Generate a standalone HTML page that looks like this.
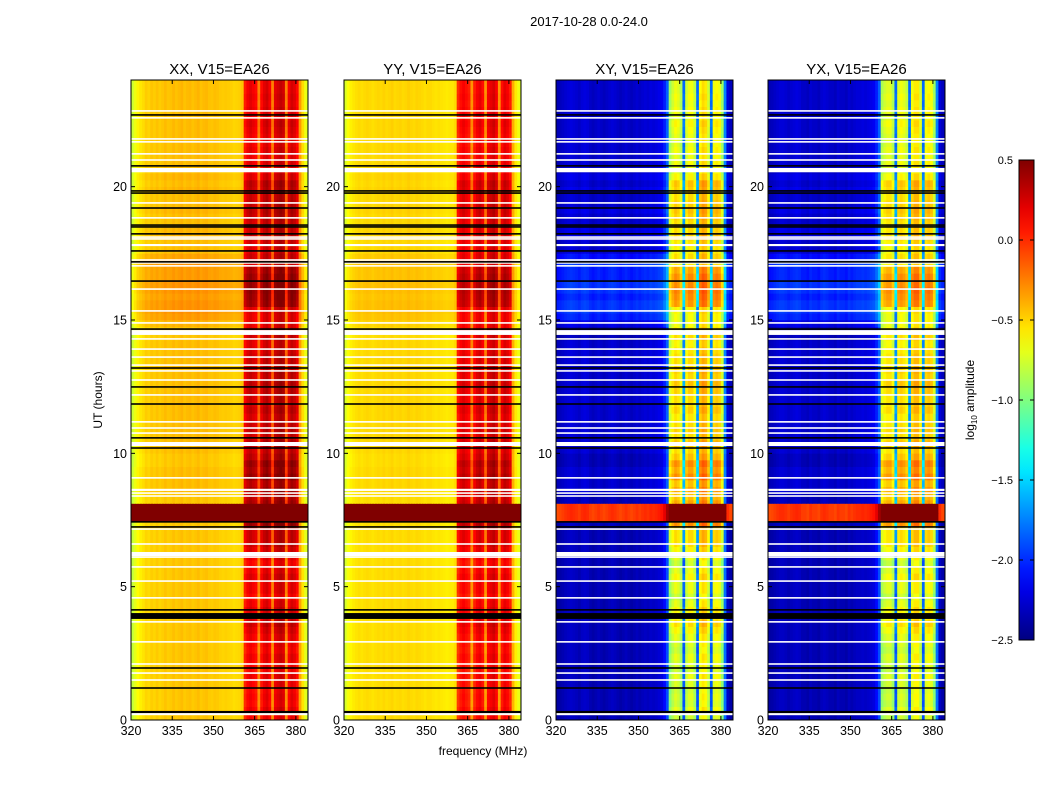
<!DOCTYPE html>
<html><head><meta charset="utf-8"><style>
body{margin:0;background:#fff;}
svg text{font-family:"Liberation Sans",sans-serif;fill:#000;}
</style></head><body>
<svg id="fig" width="1050" height="800" xmlns="http://www.w3.org/2000/svg">
<rect width="1050" height="800" fill="#fff"/>
<text x="589" y="26" font-size="13" text-anchor="middle">2017-10-28 0.0-24.0</text>
<text x="483" y="755" font-size="12" text-anchor="middle">frequency (MHz)</text>
<text transform="translate(102,400) rotate(-90)" font-size="12" text-anchor="middle">UT (hours)</text>
</svg>
<script>
// ---- data ----
const polNames = ["XX","YY","XY","YX"];
const xTicks = [320,335,350,365,380];
const yTicks = [0,5,10,15,20];
const cbTicks = [0.5,0.0,-0.5,-1.0,-1.5,-2.0,-2.5];
const baseXX = [-0.8,-0.7,-0.62,-0.58,-0.55,-0.5,-0.52,-0.48,-0.5,-0.47,-0.5,-0.48,-0.45,-0.48,-0.47,-0.44,-0.47,-0.45,-0.43,-0.47,-0.45,-0.44,-0.47,-0.45,-0.43,-0.47,-0.45,-0.44,-0.47,-0.48,-0.46,-0.47,-0.49,-0.5,-0.49,-0.5,-0.51,-0.53,-0.52,-0.51,-0.48,
 0.0,0.1,0.15,0.1,0.05,-0.3,0.05,0.15,0.2,0.1,-0.3,0.15,0.2,0.25,0.2,-0.3,0.1,0.2,0.15,0.05,-0.35,-0.55,-0.7,-0.8];
const baseYY = [-0.75,-0.65,-0.6,-0.57,-0.55,-0.53,-0.55,-0.53,-0.52,-0.53,-0.55,-0.53,-0.52,-0.53,-0.51,-0.53,-0.52,-0.5,-0.53,-0.52,-0.51,-0.53,-0.52,-0.5,-0.52,-0.53,-0.51,-0.52,-0.53,-0.55,-0.53,-0.53,-0.55,-0.56,-0.55,-0.56,-0.57,-0.58,-0.57,-0.57,-0.53,
 -0.05,0.05,0.1,0.05,0.0,-0.35,0.0,0.1,0.15,0.05,-0.35,0.1,0.15,0.2,0.1,-0.35,0.05,0.15,0.1,0.0,-0.4,-0.58,-0.68,-0.75];
const baseXY = [-2.4,-2.38,-2.35,-2.32,-2.3,-2.28,-2.3,-2.32,-2.35,-2.3,-2.28,-2.3,-2.35,-2.38,-2.35,-2.32,-2.35,-2.38,-2.35,-2.32,-2.3,-2.32,-2.35,-2.38,-2.35,-2.32,-2.35,-2.38,-2.35,-2.32,-2.35,-2.32,-2.3,-2.32,-2.28,-2.3,-2.28,-2.25,-2.22,-2.1,-1.9,
 -1.0,-0.85,-0.75,-0.8,-0.95,-1.9,-0.85,-0.75,-0.75,-0.9,-1.9,-0.7,-0.6,-0.65,-0.85,-1.9,-0.75,-0.7,-0.75,-1.0,-1.8,-2.3,-2.38,-2.4];
const baseYX = [-2.4,-2.38,-2.35,-2.32,-2.3,-2.3,-2.32,-2.35,-2.32,-2.3,-2.28,-2.3,-2.35,-2.35,-2.38,-2.32,-2.35,-2.35,-2.38,-2.32,-2.3,-2.32,-2.35,-2.35,-2.38,-2.32,-2.35,-2.35,-2.38,-2.32,-2.35,-2.32,-2.3,-2.3,-2.28,-2.3,-2.28,-2.25,-2.22,-2.1,-1.9,
 -0.95,-0.85,-0.8,-0.8,-0.95,-1.9,-0.8,-0.75,-0.8,-0.9,-1.9,-0.75,-0.65,-0.65,-0.85,-1.9,-0.75,-0.7,-0.75,-1.0,-1.8,-2.3,-2.38,-2.4];
// time rows: 96 rows of 0.25 h starting at 0 UT
const rfiGain = [0.0,0.1,0.0,0.05, 0.0,0.05,0.1,0.0, 0.05,0.1,0.0,0.05, 0.1,0.2,0.3,0.2,
 0.2,0.1,0.0,0.1, 0.1,0.2,0.1,0.0, 0.1,0.2,0.3,0.3, 0.3,0.6,0.6,0.6,
 0.5,0.4,0.5,0.4, 0.6,0.5,0.6,0.4, 0.3,0.4,0.3,0.35, 0.3,0.25,0.35,0.3,
 0.3,0.35,0.4,0.3, 0.35,0.3,0.3,0.25, 0.2,0.3,0.2,0.15, 0.15,0.2,0.55,0.6,
 0.65,0.6,0.6,0.5, 0.25,0.3,0.2,0.25, 0.35,0.3,0.3,0.35, 0.4,0.35,0.3,0.35,
 0.4,0.2,0.1,0.15, 0.1,0.15,0.1,0.1, 0.15,0.2,0.1,0.15, 0.1,0.15,0.1,0.1];
const lowGain = [0,0,0,0, 0,0,0,0, 0,0,0,0, 0,0,0,0,
 0,0,0,0, 0,0,0,0, 0,0,0,0, 0,0,0,0,
 0,0,0.05,0.05, 0.05,0.05,0,0, 0.05,0.05,0.05,0.05, 0.05,0.05,0.05,0.05,
 0.05,0.05,0.05,0.05, 0.05,0.05,0.05,0.05, 0.05,0,0,0.1, 0.25,0.3,0.3,0.25,
 0.3,0.3,0.25,0.25, 0.3,0.2,0.05,0.05, 0.1,0.1,0.05,0.05, 0.1,0.05,0.05,0.1,
 0.05,0.1,0.05,0.05, 0.05,0.05,0.05,0.05, 0.05,0.05,0.05,0.05, 0.05,0.05,0.05,0.05];
const rfiScale = [0.5,0.4,0.8,0.8];
const lowScale = [0.5,0.3,1.2,1.2];
const flareSpan = [7.42,8.12];
const flareLow = [0.6,0.6,0.0,0.0];
const flareRfi = [0.6,0.6,0.6,0.6];
// flagged integrations [hour, width in hours]
const whiteFlags = [[22.84,0.06],[22.58,0.06],[21.79,0.06],[21.68,0.06],[21.23,0.06],[21.0,0.06],[20.62,0.16],[19.39,0.06],[18.83,0.06],[18.11,0.06],[18.04,0.06],[17.81,0.08],[17.25,0.06],[17.14,0.06],[17.03,0.06],[16.16,0.06],[15.34,0.06],[14.89,0.06],[14.53,0.18],[14.29,0.06],[13.91,0.06],[13.61,0.06],[13.31,0.06],[13.09,0.06],[12.75,0.06],[12.19,0.06],[11.18,0.06],[10.95,0.06],[10.76,0.06],[10.35,0.15],[9.08,0.06],[8.63,0.08],[8.51,0.06],[8.4,0.06],[7.16,0.06],[6.6,0.06],[6.22,0.16],[6.11,0.05],[5.74,0.06],[5.21,0.06],[4.58,0.06],[3.68,0.06],[2.93,0.06],[2.1,0.06],[1.76,0.06],[1.5,0.06],[0.22,0.08]];
const blackFlags = [[22.69,0.06],[20.78,0.06],[19.84,0.06],[19.76,0.06],[19.2,0.06],[18.56,0.06],[18.49,0.06],[18.23,0.06],[17.59,0.06],[17.18,0.06],[16.46,0.06],[14.66,0.06],[13.2,0.06],[12.49,0.06],[11.85,0.06],[10.58,0.06],[10.2,0.06],[7.43,0.06],[7.24,0.06],[4.13,0.06],[3.9,0.22],[1.95,0.06],[1.2,0.06],[0.3,0.08]];
const bases = [baseXX,baseYY,baseXY,baseYX];

// ---- layout ----
const panelX = [131,344,556,768], PW=177, PT=80, PB=720;
const fMin=320, fMax=384.4, tMin=0, tMax=24, vMin=-2.5, vMax=0.5;
const NS="http://www.w3.org/2000/svg";
const fig=document.getElementById('fig');
function mk(tag,attrs,parent){const e=document.createElementNS(NS,tag);for(const k in attrs)e.setAttribute(k,attrs[k]);(parent||fig).appendChild(e);return e;}
function cl(v){return Math.max(0,Math.min(1,v));}
function jet(v){const t=cl((v-vMin)/(vMax-vMin));const r=cl(1.5-Math.abs(4*t-3)),g=cl(1.5-Math.abs(4*t-2)),b=cl(1.5-Math.abs(4*t-1));return `rgb(${Math.round(r*255)},${Math.round(g*255)},${Math.round(b*255)})`;}
function xs(p,f){return panelX[p]+(f-fMin)/(fMax-fMin)*PW;}
function ys(h){return PB-(h-tMin)/(tMax-tMin)*(PB-PT);}
const nRows=rfiGain.length, rowH=(tMax-tMin)/nRows;
const defs=mk('defs',{});

polNames.forEach((name,p)=>{
  const cp=mk('clipPath',{id:'clip'+p},defs);
  mk('rect',{x:panelX[p],y:PT,width:PW,height:PB-PT},cp);
  const g=mk('g',{});
  
  
  mk('rect',{x:panelX[p],y:PT,width:PW,height:PB-PT,fill:'#fff'},g);
  const hm=mk('g',{'clip-path':'url(#clip'+p+')'},g);
  
  
  const base=bases[p];
  for(let r=0;r<nRows;r++){
    const h0=r*rowH,h1=h0+rowH;
    const parts=[];
    const fa=Math.max(h0,flareSpan[0]),fb=Math.min(h1,flareSpan[1]);
    if(fb>fa){ if(fa>h0)parts.push([h0,fa,false]); parts.push([fa,fb,true]); if(h1>fb)parts.push([fb,h1,false]); }
    else parts.push([h0,h1,false]);
    parts.forEach(([a,b,fl])=>{
      let runStart=0,runCol=null;
      for(let c=0;c<=base.length;c++){
        let col=null;
        if(c<base.length){
          const isRfi=(c>=41&&c<=60);
          let v=base[c]+(isRfi?rfiGain[r]*rfiScale[p]:lowGain[r]*lowScale[p]);
          if(fl) v=isRfi?flareRfi[p]:(p<2?flareLow[p]:base[c]+2.3+flareLow[p]);
          col=jet(v);
        }
        if(col!==runCol){
          if(runCol!==null){
            const cell=mk('rect',{x:xs(p,fMin+runStart).toFixed(2),y:(ys(b)-0.3).toFixed(2),width:(xs(p,fMin+c)-xs(p,fMin+runStart)+0.6).toFixed(2),height:(ys(a)-ys(b)+0.6).toFixed(2),fill:runCol},hm);
            
            
          }
          runStart=c;runCol=col;
        }
      }
    });
  }
  whiteFlags.forEach(([h,w])=>{const e=mk('rect',{x:panelX[p],y:ys(h+w/2),width:PW,height:Math.max(1.5,ys(h-w/2)-ys(h+w/2)),fill:'#fff'},g);
    });
  blackFlags.forEach(([h,w])=>{const e=mk('rect',{x:panelX[p],y:ys(h+w/2),width:PW,height:Math.max(1.5,ys(h-w/2)-ys(h+w/2)),fill:'#000'},g);
    });
  mk('rect',{x:panelX[p],y:PT,width:PW,height:PB-PT,fill:'none',stroke:'#000','stroke-width':1},g);
  const t=mk('text',{x:panelX[p]+PW/2,y:74,'font-size':15,'text-anchor':'middle'},g);
  t.textContent=name+', V15=EA26';
  
  
  xTicks.forEach(f=>{const x=xs(p,f);
    mk('line',{x1:x,x2:x,y1:PB,y2:PB-4,stroke:'#000'},g);mk('line',{x1:x,x2:x,y1:PT,y2:PT+4,stroke:'#000'},g);
    const l=mk('text',{x:x,y:735,'font-size':12.5,'text-anchor':'middle'},g);l.textContent=f;
    });
  yTicks.forEach(h=>{const y=ys(h);
    mk('line',{x1:panelX[p],x2:panelX[p]+4,y1:y,y2:y,stroke:'#000'},g);mk('line',{x1:panelX[p]+PW,x2:panelX[p]+PW-4,y1:y,y2:y,stroke:'#000'},g);
    const l=mk('text',{x:panelX[p]-4,y:y+4.5,'font-size':12.5,'text-anchor':'end'},g);l.textContent=h;
    });
});

// colorbar
const lg=mk('linearGradient',{id:'jetg',x1:0,y1:1,x2:0,y2:0},defs);
for(let i=0;i<=20;i++){const v=vMin+(vMax-vMin)*i/20;mk('stop',{offset:i/20,'stop-color':jet(v)},lg);}
const cb=mk('g',{});


const CBX=1019,CBW=15,CBT=160,CBB=640;
mk('rect',{x:CBX,y:CBT,width:CBW,height:CBB-CBT,fill:'url(#jetg)',stroke:'#000','stroke-width':1},cb);
cbTicks.forEach(v=>{const y=CBB-(v-vMin)/(vMax-vMin)*(CBB-CBT);
  mk('line',{x1:CBX,x2:CBX+4,y1:y,y2:y,stroke:'#000'},cb);mk('line',{x1:CBX+CBW,x2:CBX+CBW-4,y1:y,y2:y,stroke:'#000'},cb);
  const l=mk('text',{x:1013,y:y+4,'font-size':11,'text-anchor':'end'},cb);l.textContent=v.toFixed(1).replace('-','\u2212');
  });
const cl2=mk('text',{transform:'translate(974,400) rotate(-90)','font-size':12,'text-anchor':'middle'},cb);
cl2.innerHTML='log<tspan font-size="8" dy="3">10</tspan><tspan dy="-3"> amplitude</tspan>';


</script>
</body></html>
